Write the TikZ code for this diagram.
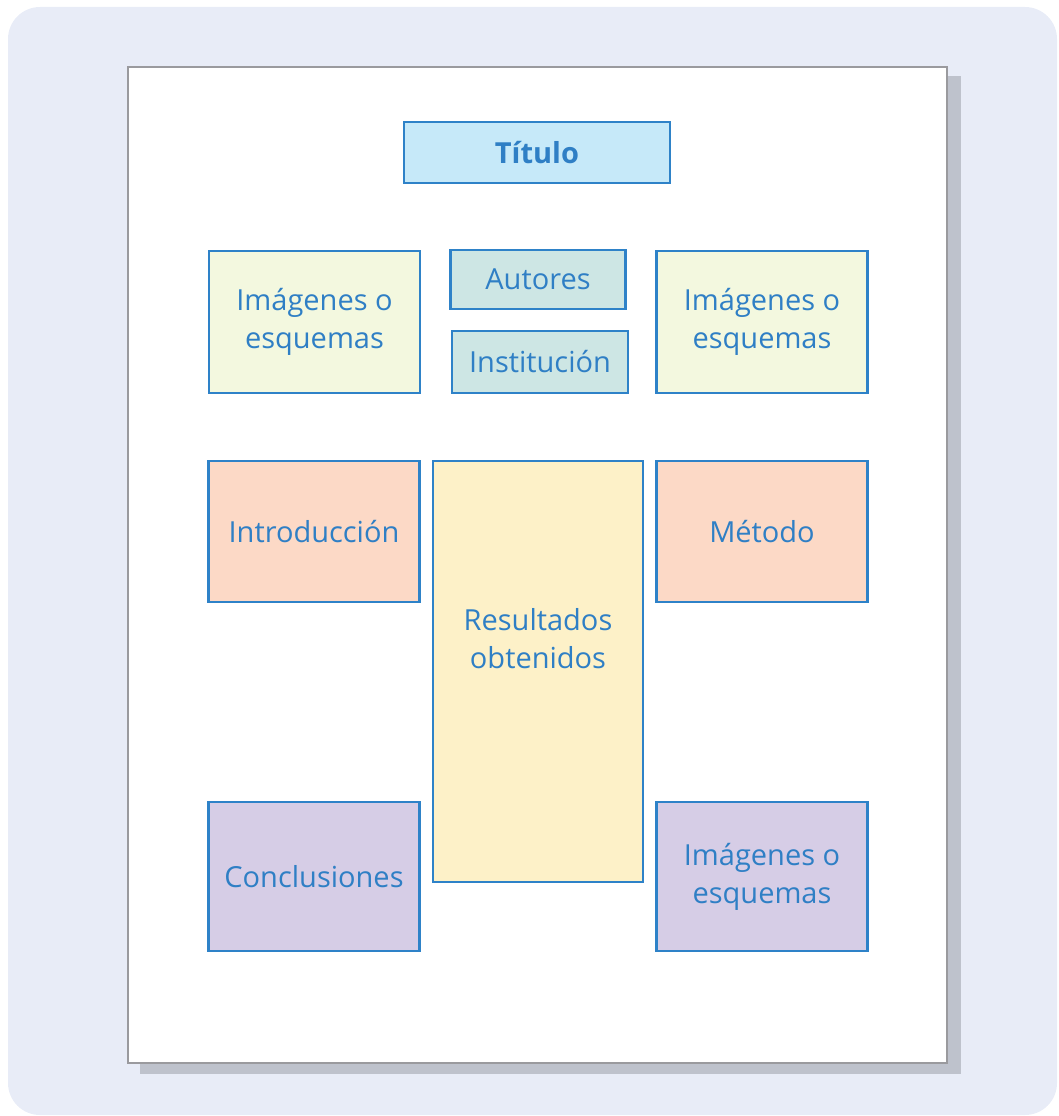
\documentclass[tikz,border=0pt]{standalone}
\usepackage{fontspec}
\setmainfont{Open Sans}
\definecolor{bgblue}{HTML}{E8ECF7}
\definecolor{shadowgray}{HTML}{BEC2CC}
\definecolor{papergray}{HTML}{9A9A9E}
\definecolor{boxblue}{HTML}{2E82C8}
\definecolor{txtblue}{HTML}{2F7FC5}
\definecolor{titlefill}{HTML}{C6E9F9}
\definecolor{authfill}{HTML}{CDE6E4}
\definecolor{imgfill}{HTML}{F3F8DF}
\definecolor{introfill}{HTML}{FCD9C6}
\definecolor{resfill}{HTML}{FDF1C8}
\definecolor{conclfill}{HTML}{D6CDE6}
\begin{document}
\begin{tikzpicture}[x=1pt,y=-1pt,
  panel/.style={draw=boxblue,line width=2.5pt,inner sep=0pt,align=center,
    text=txtblue,font=\fontsize{29}{38}\selectfont},
  wide/.style={panel,minimum width=211pt,minimum height=142pt},
  tall/.style={panel,minimum width=211pt,minimum height=149pt}]
  \useasboundingbox (0,0) rectangle (1058,1116);
  \fill[bgblue,rounded corners=32pt] (8,7) rectangle (1057,1115);
  % sheet with shadow
  \fill[shadowgray] (140,76) rectangle (961,1074);
  \draw[papergray,fill=white,line width=2pt] (128,67) rectangle (947,1063);
  % header
  \node[panel,fill=titlefill,minimum width=266pt,minimum height=61pt,
    font=\fontsize{29}{38}\selectfont\bfseries] (title) at (537,152.5) {Título};
  \node[panel,fill=authfill,minimum width=175pt,minimum height=59pt] (auth) at (538,279.5) {Autores};
  \node[panel,fill=authfill,minimum width=176pt,minimum height=62pt] (inst) at (540,362) {Institución};
  \node[wide,fill=imgfill] (imgL) at (314.5,322) {Imágenes o\\esquemas};
  \node[wide,fill=imgfill] (imgR) at (762,322) {Imágenes o\\esquemas};
  % body
  \node[wide,fill=introfill,minimum height=141pt] (intro) at (314,531.5) {Introducción};
  \node[wide,fill=introfill,minimum height=141pt] (meth) at (762,531.5) {Método};
  \node[panel,fill=resfill,minimum width=210pt,minimum height=421pt] (res) at (538,671.5) {};
  \node[panel,draw=none] (restxt) at ([yshift=33pt]res.center) {Resultados\\obtenidos};
  \node[tall,fill=conclfill] (concl) at (314,876.5) {Conclusiones};
  \node[tall,fill=conclfill] (imgB) at (762,876.5) {Imágenes o\\esquemas};
\end{tikzpicture}
\end{document}
